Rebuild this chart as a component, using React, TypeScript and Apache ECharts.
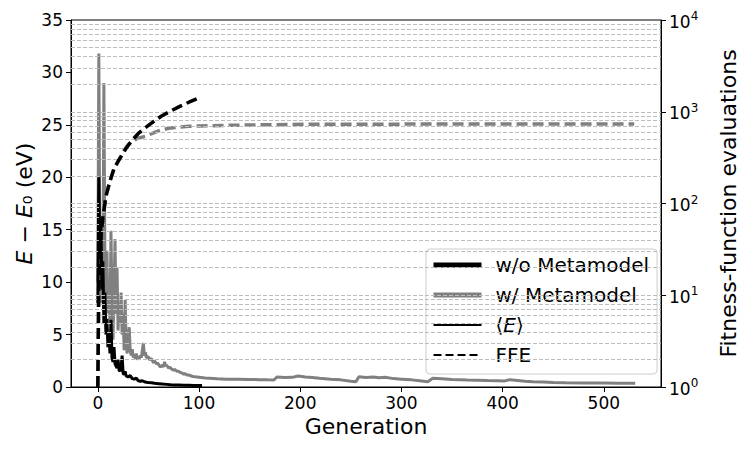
import React, { useEffect, useRef } from "react";
import * as echarts from "echarts";

// ---- Data ----
const xTickValues = [0, 100, 200, 300, 400, 500];

// Energy E - E0 (eV) per generation, without metamodel
const energyWithout: [number, number][] = [
  [0, 8], [1, 20], [2, 13], [3, 16], [4, 9.3], [5, 12], [6, 6], [7, 9], [8, 5], [9, 6.5],
  [10, 3.8], [11, 5], [12, 3.2], [13, 6.4], [14, 2.8], [15, 2.4], [16, 3.8], [17, 2.2],
  [18, 2.0], [19, 1.8], [20, 2.6], [21, 1.6], [22, 1.5], [23, 1.9], [24, 3.0], [25, 1.3],
  [26, 1.2], [27, 1.5], [28, 1.05], [30, 0.95], [32, 1.1], [34, 0.8], [36, 0.75], [38, 0.85],
  [40, 0.6], [42, 0.55], [44, 0.6], [46, 0.5], [48, 0.45], [50, 0.42], [53, 0.4], [56, 0.35],
  [60, 0.32], [64, 0.28], [68, 0.25], [72, 0.22], [76, 0.2], [80, 0.19], [85, 0.17],
  [90, 0.16], [95, 0.15], [100, 0.14], [103, 0.14],
];

// Energy E - E0 (eV) per generation, with metamodel
const energyWith: [number, number][] = [
  [0, 10], [1, 31.8], [2, 13], [3, 8], [4, 12], [5, 9], [6, 29], [7, 12], [8, 9], [9, 13],
  [10, 7], [11, 10], [12, 6], [13, 14.9], [14, 8], [15, 4.5], [16, 9], [17, 14.1], [18, 7],
  [19, 11.4], [20, 5.4], [21, 8], [22, 6], [23, 9], [24, 5], [25, 7], [26, 3.5], [27, 8.3],
  [28, 4], [29, 3.2], [30, 4.5], [31, 5.7], [32, 3.5], [33, 3], [34, 3.6], [35, 2.8],
  [36, 3.1], [37, 2.7], [38, 3.2], [39, 2.6], [40, 2.9], [41, 2.7], [42, 3.0], [43, 2.8],
  [44, 3.5], [45, 4.2], [46, 3.0], [47, 3.3], [48, 2.8], [50, 2.9], [51, 2.6], [53, 2.7],
  [55, 2.3], [56, 2.5], [58, 2.2], [59, 2.3], [61, 2.0], [62, 1.9], [64, 2.1], [65, 1.9],
  [66, 2.4], [67, 2.0], [68, 2.1], [70, 1.8], [71, 1.9], [73, 1.7], [75, 1.6], [76, 1.7],
  [78, 1.5], [80, 1.5], [81, 1.4], [83, 1.35], [85, 1.2], [86, 1.3], [88, 1.14], [90, 1.15],
  [91, 1.1], [94, 1.0], [98, 0.95], [102, 0.9], [106, 0.85], [110, 0.83], [118, 0.78],
  [127, 0.73], [138, 0.75], [149, 0.72], [160, 0.7], [168, 0.68], [174, 0.67], [177, 0.95],
  [185, 0.9], [192, 0.92], [198, 1.05], [205, 0.95], [212, 0.9], [219, 0.83], [230, 0.75],
  [240, 0.68], [250, 0.55], [255, 0.5], [258, 0.98], [265, 0.9], [272, 0.95], [278, 0.88],
  [284, 0.92], [292, 0.8], [300, 0.75], [310, 0.68], [318, 0.6], [326, 0.5], [331, 0.83],
  [340, 0.78], [350, 0.72], [358, 0.7], [365, 0.67], [375, 0.65], [385, 0.62], [395, 0.6],
  [402, 0.58], [407, 0.7], [415, 0.62], [422, 0.55], [430, 0.5], [440, 0.47], [450, 0.44],
  [462, 0.41], [480, 0.38], [500, 0.37], [515, 0.36], [531, 0.35],
];

// Fitness-function evaluations (cumulative), log scale
const ffeWithout: [number, number][] = [
  [0, 1], [1, 15], [2, 29], [3, 43], [5, 70], [8, 120], [12, 175], [16, 240], [21, 300],
  [28, 400], [34, 490], [40, 580], [47, 670], [55, 780], [63, 900], [70, 990], [80, 1130],
  [90, 1270], [99, 1400], [102, 1440],
];

const ffeWith: [number, number][] = [
  [0, 1], [1, 15], [2, 29], [3, 43], [5, 70], [8, 120], [12, 175], [16, 240], [21, 300],
  [26, 380], [30, 440], [34, 480], [40, 515], [47, 540], [55, 590], [62, 630], [70, 660],
  [80, 680], [90, 693], [100, 700], [130, 712], [160, 720], [206, 730], [300, 733],
  [400, 735], [530, 735],
];

const logDecades = [1, 10, 100, 1000];
const logMultipliers = [1, 2, 3, 4, 5, 6, 7, 8, 9];

const FONT = "DejaVu Sans";

export default function App() {
  const ref = useRef<HTMLDivElement>(null);

  useEffect(() => {
    if (!ref.current) return;
    const chart = echarts.init(ref.current, undefined, { renderer: "svg" });

    const gridValues: number[] = [];
    logDecades.forEach((d) =>
      logMultipliers.forEach((m) => {
        const v = d * m;
        if (v > 1) gridValues.push(v);
      })
    );

    const hiddenSymbol = { opacity: 0 };

    const option: any = {
      animation: false,
      backgroundColor: "#fff",
      textStyle: { fontFamily: FONT, color: "#000" },
      grid: {
        left: 71,
        right: 78,
        top: 20,
        bottom: 62,
        containLabel: false,
        show: true,
        borderColor: "#000",
        borderWidth: 1,
        backgroundColor: "transparent",
      },
      xAxis: {
        type: "value",
        min: -26.5,
        max: 556.5,
        name: "Generation",
        nameLocation: "middle",
        nameGap: 27,
        nameTextStyle: { fontSize: 22, fontFamily: FONT, color: "#000" },
        axisLine: { onZero: false, lineStyle: { color: "#000", width: 1 } },
        axisTick: {
          show: true,
          length: 5,
          lineStyle: { color: "#000" },
          customValues: xTickValues,
        },
        axisLabel: {
          fontSize: 17,
          fontFamily: FONT,
          color: "#000",
          margin: 7,
          customValues: xTickValues,
        },
        splitLine: { show: false },
      },
      yAxis: [
        {
          type: "value",
          min: 0,
          max: 35,
          interval: 5,
          position: "left",
          name: "{i|E} − {i|E}₀ (eV)",
          nameLocation: "middle",
          nameGap: 36,
          nameMoveOverlap: false,
          nameRotate: 90,
          nameTextStyle: {
            fontSize: 22,
            fontFamily: FONT,
            color: "#000",
            rich: { i: { fontStyle: "italic", fontSize: 22, fontFamily: FONT, color: "#000" } },
          },
          axisLine: { show: true, onZero: false, lineStyle: { color: "#000", width: 1 } },
          axisTick: { show: true, length: 5, lineStyle: { color: "#000" } },
          axisLabel: { fontSize: 17, fontFamily: FONT, color: "#000", margin: 8 },
          splitLine: { show: false },
        },
        {
          type: "log",
          logBase: 10,
          min: 1,
          max: 10000,
          position: "right",
          name: "Fitness-function evaluations",
          nameLocation: "middle",
          nameGap: 56,
          nameMoveOverlap: false,
          nameRotate: 90,
          nameTextStyle: { fontSize: 22, fontFamily: FONT, color: "#000" },
          axisLine: { show: true, onZero: false, lineStyle: { color: "#000", width: 1 } },
          axisTick: { show: true, length: 5, lineStyle: { color: "#000" } },
          axisLabel: {
            fontSize: 17,
            fontFamily: FONT,
            color: "#000",
            margin: 8,
            formatter: (v: number) => {
              const e = Math.round(Math.log10(v));
              return "{b|10}{s|" + e + "}";
            },
            rich: {
              b: { fontSize: 17, fontFamily: FONT, color: "#000", verticalAlign: "bottom" },
              s: {
                fontSize: 12,
                fontFamily: FONT,
                color: "#000",
                verticalAlign: "bottom",
                padding: [0, 0, 8, 0],
              },
            },
          },
          splitLine: { show: false },
        },
      ],
      legend: {
        show: true,
        orient: "vertical",
        left: 426,
        top: 249,
        selectedMode: false,
        itemWidth: 48,
        itemHeight: 20,
        itemGap: 10,
        padding: [6, 8, 9, 5],
        backgroundColor: "rgba(255,255,255,0.8)",
        borderColor: "#cccccc",
        borderWidth: 1,
        borderRadius: 4,
        itemStyle: hiddenSymbol,
        textStyle: {
          fontSize: 20,
          fontFamily: FONT,
          color: "#000",
          rich: {
            p: { width: 9, fontSize: 20, fontFamily: FONT },
            t: { fontSize: 20, fontFamily: FONT, color: "#000" },
            i: { fontStyle: "italic", fontSize: 20, fontFamily: FONT, color: "#000" },
          },
        },
        formatter: (name: string) =>
          name === "⟨E⟩" ? "{p| }{t|⟨}{i|E}{t|⟩}" : "{p| }{t|" + name + "}",
        data: [
          { name: "w/o Metamodel", itemStyle: hiddenSymbol, lineStyle: { color: "#000", width: 5 } },
          { name: "w/ Metamodel", itemStyle: hiddenSymbol, lineStyle: { color: "#808080", width: 5 } },
          { name: "⟨E⟩", itemStyle: hiddenSymbol, lineStyle: { color: "#000", width: 2 } },
          { name: "FFE", itemStyle: hiddenSymbol, lineStyle: { color: "#000", width: 2, type: [8, 4] } },
        ],
      },
      series: [
        {
          name: "grid",
          type: "line",
          yAxisIndex: 1,
          data: [],
          silent: true,
          z: 1,
          markLine: {
            silent: true,
            symbol: ["none", "none"],
            label: { show: false },
            lineStyle: { color: "#bdbdbd", width: 1, type: [4, 2] },
            emphasis: { disabled: true },
            data: gridValues.map((v) => ({ yAxis: v })),
          },
        },
        {
          name: "w/ Metamodel",
          type: "line",
          yAxisIndex: 0,
          data: energyWith,
          symbol: "none",
          z: 2,
          lineStyle: { color: "#808080", width: 3 },
          itemStyle: { color: "#808080" },
        },
        {
          name: "w/o Metamodel",
          type: "line",
          yAxisIndex: 0,
          data: energyWithout,
          symbol: "none",
          z: 4,
          lineStyle: { color: "#000", width: 3 },
          itemStyle: { color: "#000" },
        },
        {
          name: "FFE w/ Metamodel",
          type: "line",
          yAxisIndex: 1,
          data: ffeWith,
          symbol: "none",
          z: 3,
          lineStyle: { color: "#808080", width: 3.5, type: [11, 5] },
          itemStyle: { color: "#808080" },
        },
        {
          name: "FFE w/o Metamodel",
          type: "line",
          yAxisIndex: 1,
          data: ffeWithout,
          symbol: "none",
          z: 5,
          lineStyle: { color: "#000", width: 3.5, type: [11, 5] },
          itemStyle: { color: "#000" },
        },
        {
          name: "⟨E⟩",
          type: "line",
          yAxisIndex: 0,
          data: [],
          symbol: "none",
          lineStyle: { color: "#000", width: 2 },
          itemStyle: { color: "#000" },
        },
        {
          name: "FFE",
          type: "line",
          yAxisIndex: 1,
          data: [],
          symbol: "none",
          lineStyle: { color: "#000", width: 2, type: [8, 4] },
          itemStyle: { color: "#000" },
        },
      ],
    };

    chart.setOption(option);
    return () => chart.dispose();
  }, []);

  return (
    <div
      ref={ref}
      style={{ position: "fixed", left: 0, top: 0, width: 747, height: 449, background: "#fff" }}
    />
  );
}
